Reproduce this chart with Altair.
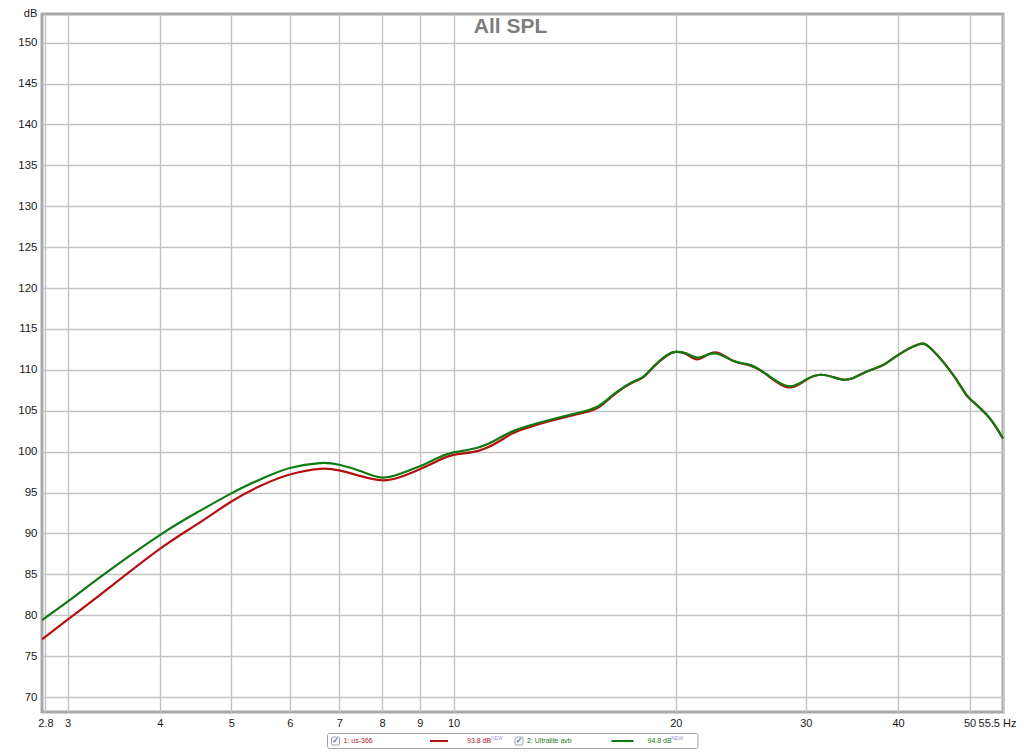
import altair as alt
import pandas as pd

# ---------------- data ----------------
freq_hz = [2.77, 3.0, 3.36, 4.0, 4.49, 5.0, 5.47, 6.0, 6.59, 7.0, 7.49, 8.0, 8.47, 9.0,
           9.48, 10.0, 10.8, 11.5, 12.0, 12.57, 13.52, 15.0, 15.8, 16.64, 17.53, 18.08,
           18.66, 19.45, 20.0, 20.7, 21.47, 22.6, 23.9, 25.2, 26.6, 28.4, 30.0, 31.4,
           32.7, 33.7, 34.8, 36.3, 38.2, 40.0, 42.6, 44.2, 46.6, 48.8, 50.0, 53.0, 55.5]

us366_db = [77.06, 79.45, 82.85, 88.1, 91.1, 93.9, 95.8, 97.2, 97.9, 97.7, 97.0, 96.5, 96.9,
            97.85, 98.8, 99.6, 100.1, 101.2, 102.2, 102.9, 103.75, 104.75, 105.55, 107.2,
            108.5, 109.1, 110.35, 111.75, 112.2, 111.9, 111.3, 112.15, 111.1, 110.55,
            109.35, 107.85, 108.75, 109.4, 109.1, 108.8, 109.0, 109.8, 110.6, 111.8,
            113.1, 112.7, 110.4, 107.8, 106.5, 104.3, 101.6]

ultralite_db = [79.4, 81.65, 85.0, 89.8, 92.55, 94.9, 96.6, 98.0, 98.6, 98.4, 97.6, 96.83,
                97.3, 98.2, 99.15, 99.9, 100.5, 101.6, 102.45, 103.1, 103.9, 104.9, 105.7,
                107.3, 108.57, 109.18, 110.4, 111.8, 112.2, 112.0, 111.5, 112.0, 111.1,
                110.6, 109.4, 108.0, 108.8, 109.4, 109.1, 108.8, 109.0, 109.8, 110.6,
                111.8, 113.1, 112.7, 110.4, 107.8, 106.5, 104.3, 101.6]

series_names = ["us-366", "Ultralite avb"]
series_levels = ["93.8 dB", "94.8 dB"]
series_colors = ["#b51010", "#0f7a0f"]
series_text_colors = ["#a82020", "#1a7a1a"]

x_tick_values = [2.8, 3, 4, 5, 6, 7, 8, 9, 10, 20, 30, 40, 50, 55.5]
y_tick_values = list(range(70, 151, 5))
chart_title = "All SPL"
y_unit = "dB"

# ---------------- layout ----------------
W, H = 961, 698
FONT = "Liberation Sans"
GRID = "#c2c2c2"

rows = []
for name, vals in zip(series_names, [us366_db, ultralite_db]):
    for f, v in zip(freq_hz, vals):
        rows.append({"freq": f, "db": v, "series": name})
df = pd.DataFrame(rows)

x_axis = alt.Axis(
    values=x_tick_values, title=None, grid=True, gridColor=GRID, gridWidth=1.4,
    ticks=False, domain=False, labelFont=FONT, labelFontSize=11, labelColor="#1a1a1a",
    labelPadding=5, labelOverlap=False, labelFlush=False,
    labelExpr="datum.value == 55.5 ? '55.5 Hz' : format(datum.value, '~g')",
    labelOffset={"condition": {"test": "datum.value == 55.5", "value": -6}, "value": 0},
)
y_axis = alt.Axis(
    values=y_tick_values, grid=True, gridColor=GRID, gridWidth=1.4, ticks=False,
    domain=False, labelFont=FONT, labelFontSize=11.5, labelColor="#1a1a1a",
    labelPadding=5, title=y_unit, titleAngle=0, titleX=-12, titleY=-1,
    titleAlign="center", titleBaseline="middle", titleFont=FONT, titleFontSize=11,
    titleFontWeight="normal", titleColor="#1a1a1a",
)

x_enc = alt.X("freq:Q", scale=alt.Scale(type="log", domain=[2.77, 55.5], nice=False), axis=x_axis)
y_enc = alt.Y("db:Q", scale=alt.Scale(domain=[68.17, 153.5], nice=False, zero=False), axis=y_axis)


def curve(i):
    return (
        alt.Chart(df)
        .transform_filter(alt.datum.series == series_names[i])
        .mark_line(color=series_colors[i], strokeWidth=2.2, interpolate="natural")
        .encode(x=x_enc, y=y_enc)
    )


one = pd.DataFrame({"k": [0]})

title_layer = alt.Chart(one).mark_text(
    text=chart_title, font=FONT, fontSize=21, fontWeight="bold", color="#7d7d7d",
    align="center", baseline="middle",
).encode(x=alt.value(468.5), y=alt.value(13))

# legend strip below the plot
LY = 727
legend_layers = [
    alt.Chart(one).mark_rect(fill="white", stroke="#a0a0a0", strokeWidth=1, cornerRadius=2)
    .encode(x=alt.value(285.5), x2=alt.value(656), y=alt.value(719.5), y2=alt.value(734.5))
]
offsets = [0, 183.5]
for i in range(2):
    o = offsets[i]
    legend_layers += [
        alt.Chart(one).mark_rect(fill="#f4f6fa", stroke="#8a96a8", strokeWidth=0.8, cornerRadius=1)
        .encode(x=alt.value(289.5 + o), x2=alt.value(297.5 + o),
                y=alt.value(LY - 4), y2=alt.value(LY + 4)),
        alt.Chart(one).mark_text(text="\u2713", font="DejaVu Sans", fontSize=8,
                                 color="#2a3550", align="center", baseline="middle")
        .encode(x=alt.value(293.5 + o), y=alt.value(LY)),
        alt.Chart(one).mark_text(text=f"{i + 1}: {series_names[i]}", font=FONT, fontSize=7,
                                 color=series_text_colors[i], align="left", baseline="middle")
        .encode(x=alt.value(301.5 + o), y=alt.value(LY)),
        alt.Chart(one).mark_rule(color=series_colors[i], strokeWidth=2)
        .encode(x=alt.value(388 + o - (2 if i else 0)), x2=alt.value(406 + o + 2 * i),
                y=alt.value(LY)),
        alt.Chart(one).mark_text(text=series_levels[i], font=FONT, fontSize=7,
                                 color=series_text_colors[i], align="left", baseline="middle")
        .encode(x=alt.value(425 + o - 3 * i), y=alt.value(LY)),
        alt.Chart(one).mark_text(text="NEW", font=FONT, fontSize=5, color="#9a9ae0",
                                 align="left", baseline="middle")
        .encode(x=alt.value(449 + o - 3 * i), y=alt.value(LY - 3)),
    ]

chart = (
    alt.layer(curve(0), curve(1), title_layer, *legend_layers)
    .properties(
        width=W, height=H,
        autosize=alt.AutoSizeParams(type="none"),
        padding={"left": 34, "top": 6, "right": 13, "bottom": 37},
        background="white",
    )
    .configure_view(stroke="#a8a8a8", strokeWidth=3)
)

chart.save("out.html", embed_options={"renderer": "svg", "actions": False})
